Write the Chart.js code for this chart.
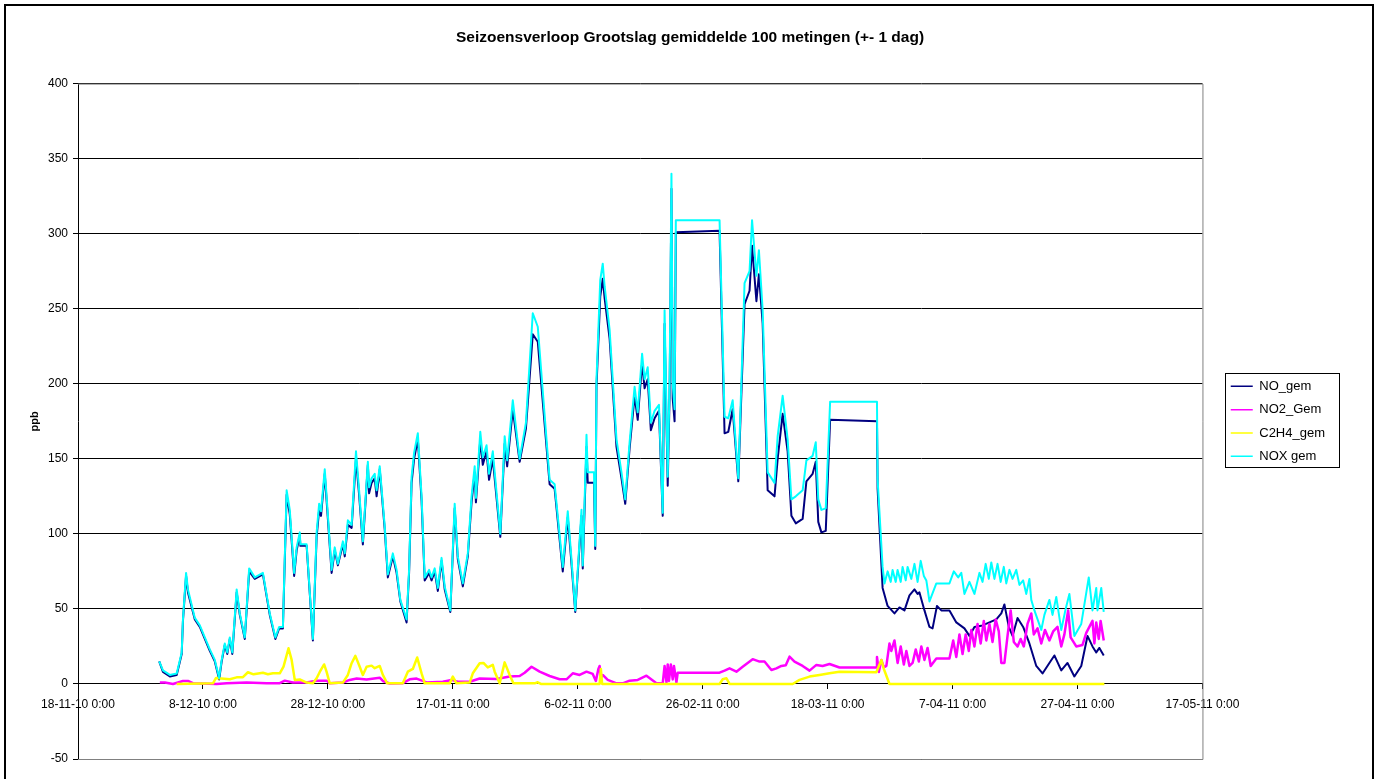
<!DOCTYPE html>
<html>
<head>
<meta charset="utf-8">
<title>Seizoensverloop Grootslag</title>
<script src="https://cdn.jsdelivr.net/npm/chart.js@4.4.1/dist/chart.umd.min.js"></script>
<style>
  html, body { margin: 0; padding: 0; background: #fff; }
  canvas { display: block; }
</style>
</head>
<body>
<canvas id="chart" width="1380" height="779"></canvas>
<script>
// dagen vanaf 18-11-10 0:00
const startDate = Date.UTC(2010, 10, 18);
const seriesNames = ['NO_gem', 'NO2_Gem', 'C2H4_gem', 'NOX gem'];
const yTicks = { min: -50, max: 400, step: 50 };
const xTicks = { min: 0, max: 180, step: 20 };

const noxDays = [
  13.0,13.6,14.7,15.8,16.6,16.8,17.3,17.6,18.7,19.5,
  21.1,21.9,22.6,23.0,23.5,23.9,24.3,24.7,25.4,25.9,
  26.7,27.4,28.3,29.6,30.7,31.6,32.2,32.8,33.0,33.4,
  33.9,34.6,35.0,35.5,35.6,36.6,37.6,38.2,38.6,38.9,
  39.5,40.6,41.1,41.6,42.4,42.7,43.2,43.8,44.5,45.0,
  45.6,46.4,46.6,47.0,47.5,47.8,48.3,49.1,49.6,50.4,
  51.0,51.6,52.6,53.0,53.4,53.8,54.4,55.0,55.5,56.2,
  56.6,57.1,57.6,58.2,58.7,59.6,60.3,60.8,61.6,62.4,
  63.0,63.5,63.7,64.4,64.8,65.4,65.8,66.4,67.6,68.3,
  68.7,69.6,70.7,71.7,72.8,73.6,75.5,76.3,77.6,78.4,
  79.0,79.6,80.0,80.6,80.8,81.4,81.6,82.6,82.8,83.0,
  83.6,84.0,84.3,85.1,86.2,87.0,87.6,88.3,89.1,89.6,
  90.3,90.7,91.2,91.7,92.3,93.0,93.6,93.9,94.4,94.7,
  95.0,95.2,95.5,95.7,102.7,103.5,104.1,104.8,105.7,106.7,
  107.5,107.9,108.6,109.0,109.6,110.4,111.5,112.0,112.8,113.6,
  114.2,114.9,116.0,116.6,117.6,118.1,118.5,119.0,119.7,120.4,
  127.9,128.0,
  128.8,129.1,129.6,130.1,130.4,130.9,131.2,131.7,132.0,132.5,
  132.8,133.4,133.9,134.4,134.9,135.4,135.8,136.3,137.4,139.5,
  140.2,140.9,141.4,141.9,142.7,143.5,144.3,144.8,145.3,145.8,
  146.2,146.7,147.2,147.7,148.2,148.6,149.1,149.6,150.2,150.7,
  151.3,151.8,152.3,152.6,153.1,154.2,154.7,155.5,156.0,156.6,
  157.4,158.1,158.7,159.5,160.6,161.8,162.4,163.0,163.2,163.8,
  164.2
];
const noxValues = [
  15,9,6,7,21,43,74,63,44,39,
  23,16,4,16,27,21,31,21,63,47,
  31,77,71,74,47,31,38,38,69,129,
  116,74,91,101,93,93,30,101,120,115,
  143,76,91,80,95,87,109,106,155,129,
  95,148,131,137,140,129,145,105,73,87,
  76,56,43,76,138,154,167,125,71,76,
  71,77,64,84,65,49,120,85,67,87,
  125,145,124,168,151,159,140,155,100,165,
  149,189,150,174,247,238,136,133,78,115,
  83,49,76,116,79,166,141,141,92,203,
  269,280,265,236,163,141,123,161,198,181,
  220,203,211,174,182,186,114,249,138,200,
  340,200,183,309,309,178,177,189,137,267,
  275,309,272,289,249,141,134,165,192,163,
  123,125,129,149,152,161,123,116,117,188,
  188,136,
  78,67,75,68,76,68,76,68,78,69,
  78,70,80,68,82,72,69,55,67,67,
  75,71,74,60,68,60,74,68,80,70,
  81,70,80,68,78,67,76,70,76,66,
  69,60,70,56,49,36,46,56,46,58,
  36,50,60,32,40,71,49,64,49,64,
  48
];

const noDays = [
  13.0,13.6,14.7,15.8,16.6,16.8,17.3,17.6,18.7,19.5,
  21.1,21.9,22.6,23.0,23.5,23.9,24.3,24.7,25.4,25.9,
  26.7,27.4,28.3,29.6,30.7,31.6,32.2,32.8,33.0,33.4,
  33.9,34.6,35.0,35.5,35.6,36.6,37.6,38.2,38.6,38.9,
  39.5,40.6,41.1,41.6,42.4,42.7,43.2,43.8,44.5,45.0,
  45.6,46.4,46.6,47.0,47.5,47.8,48.3,49.1,49.6,50.4,
  51.0,51.6,52.6,53.0,53.4,53.8,54.4,55.0,55.5,56.2,
  56.6,57.1,57.6,58.2,58.7,59.6,60.3,60.8,61.6,62.4,
  63.0,63.5,63.7,64.4,64.8,65.4,65.8,66.4,67.6,68.3,
  68.7,69.6,70.7,71.7,72.8,73.6,75.5,76.3,77.6,78.4,
  79.0,79.6,80.0,80.6,80.8,81.4,81.6,82.6,82.8,83.0,
  83.6,84.0,84.3,85.1,86.2,87.0,87.6,88.3,89.1,89.6,
  90.3,90.7,91.2,91.7,92.3,93.0,93.6,93.9,94.4,94.7,
  95.0,95.2,95.5,95.7,102.7,103.5,104.1,104.8,105.7,106.7,
  107.5,107.9,108.6,109.0,109.6,110.4,111.5,112.0,112.8,113.6,
  114.2,114.9,116.0,116.6,117.6,118.1,118.5,119.0,119.7,120.4,
  127.9,128.0,
  128.8,129.6,130.7,131.5,132.3,133.1,133.9,134.4,134.7,135.5,
  136.3,136.8,137.5,138.2,139.5,140.6,141.9,142.7,143.5,144.8,
  145.9,147.0,147.8,148.3,149.0,149.6,150.4,151.3,152.3,153.4,
  154.4,155.5,156.3,157.4,158.4,159.5,160.6,161.6,162.4,163.0,
  163.5,164.2
];
const noValues = [
  15,8,5,6,20,42,72,61,43,38,
  22,15,3,15,26,20,30,20,61,46,
  30,75,70,73,46,30,37,37,67,126,
  113,72,89,99,92,92,29,98,116,112,
  140,74,89,79,93,85,106,104,150,126,
  93,146,127,134,137,125,143,103,71,85,
  74,55,41,74,134,150,163,122,69,74,
  69,75,62,82,63,48,117,83,65,85,
  121,141,121,163,146,155,136,150,98,160,
  145,183,148,170,233,228,133,130,75,111,
  80,48,74,112,77,158,134,134,90,198,
  258,270,257,230,158,137,120,157,192,176,
  214,197,203,169,177,182,112,240,132,192,
  330,190,175,301,302,167,168,183,135,253,
  262,292,255,273,240,129,125,150,180,155,
  112,107,110,135,140,148,108,101,102,176,
  175,130,
  64,52,47,51,49,59,63,60,61,49,
  38,37,52,49,49,41,37,32,38,39,
  41,43,47,53,38,32,44,38,27,12,
  7,14,19,9,14,5,12,32,25,21,
  24,19
];

const no2Days = [
  13.1,13.9,15.2,16.8,17.6,18.4,22.2,23.8,27.0,30.2,
  32.3,33.1,34.4,36.6,38.2,39.8,40.3,42.4,43.5,44.6,
  46.2,48.3,48.8,49.9,52.0,53.1,54.2,55.8,58.4,59.8,
  60.8,62.7,64.3,67.0,69.1,70.7,71.5,72.6,73.9,75.5,
  77.1,78.2,79.2,80.3,81.4,82.4,82.9,83.3,83.5,83.7,
  84.0,84.8,86.2,87.2,88.3,89.6,91.0,92.6,93.6,93.9,
  94.2,94.4,94.6,94.9,95.2,95.4,95.8,96.0,102.7,103.5,
  104.3,105.4,106.4,108.0,109.1,109.9,111.0,111.8,112.6,113.3,
  113.9,114.7,116.0,117.1,118.2,119.2,120.3,121.9,127.8,127.9,
  128.2,128.6,129.0,129.4,129.9,130.2,130.7,131.2,131.7,132.2,
  132.6,133.1,133.6,134.1,134.6,135.0,135.5,136.0,136.5,137.4,
  139.5,140.1,140.6,141.1,141.6,142.1,142.6,143.0,143.5,144.0,
  144.5,145.0,145.4,145.9,146.4,146.9,147.4,147.8,148.3,148.8,
  149.3,149.8,150.4,150.9,151.4,152.0,152.6,153.0,153.6,154.2,
  154.8,155.5,156.1,156.8,157.4,157.9,158.5,158.9,159.8,160.8,
  161.4,162.4,162.7,163.0,163.4,163.7,164.2
];
const no2Values = [
  1,1,0,2,2,0.5,0,0.5,1,0.5,
  0.5,2.2,1,1,2.2,2.2,0.5,1,2.7,3.6,
  3,4.2,2,0.3,0.5,3.1,3.6,1,1.5,2.7,
  1.5,1.5,3.6,3.3,4.9,5.3,7.5,11.5,8.2,5.3,
  3.1,3.1,7.1,6,8.2,6.7,2,10,12,4,
  6,2.7,0.4,0.4,2.2,2.7,5.5,0.4,0.4,12,
  1,13,2,13,3,12,1,7.5,7.5,8.9,
  10.4,8.2,11.5,16.5,14.9,15,9.3,10.4,12,12.5,
  18.2,14.9,12,8.9,12.7,12,13.3,11,11,18,
  8,16,11,12,27,22,29,14,25,13,
  22,12,14,23,15,25,16,24,12,17,
  17,29,18,33,20,33,22,36,25,40,
  27,42,29,40,28,43,35,14,14,32,
  49,28,25,30,25,40,47,33,37,27,
  36,29,35,38,25,33,49,31,25,26,
  34,42,27,41,30,42,29
];

const c2h4Days = [
  15.8,21.6,22.1,22.5,24.3,25.4,26.4,27.2,28.1,29.6,
  30.4,31.2,32.3,32.9,33.7,34.2,34.7,35.5,36.6,37.6,
  38.2,38.7,39.4,39.8,40.3,42.4,43.2,43.8,44.4,45.1,
  45.6,46.2,47.0,47.5,48.3,48.8,49.5,52.0,52.8,53.6,
  54.3,55.0,55.5,59.5,60.0,60.6,62.7,63.2,64.3,64.9,
  65.6,66.4,66.7,67.5,68.3,69.1,69.7,73.1,73.6,74.1,
  83.5,83.7,83.9,102.7,103.2,103.8,104.3,114.4,115.5,117.1,
  118.7,120.3,121.9,127.8,128.6,129.0,129.9,164.3
];
const c2h4Values = [
  0,0.4,4,3.8,3.1,4.4,4.5,7.8,6.4,7.5,
  6.5,7.1,7.1,11.5,23.8,16,2.7,3,0.9,0.4,
  3.8,8,13,8,0.4,0.9,6,13.8,18.7,11.5,
  6,11.5,12.2,10.5,12,6,0.4,0.4,8.2,10,
  17.6,7,0.4,0.4,4.9,0.4,0.9,7.1,13.8,14,
  11,12.7,8.2,0.4,14.4,6,0.4,0.4,1.1,0,
  0,10,0,0,3.1,3.8,0,0,2.7,4.9,
  6,7.1,8.2,7.8,16,10,0,0
];

const FONT = 'Arial, "Liberation Sans", sans-serif';

function toPoints(days, values) {
  return days.map((d, i) => ({ x: d, y: values[i] }));
}

function dayLabel(v) {
  const d = new Date(startDate + v * 864e5);
  const mm = String(d.getUTCMonth() + 1).padStart(2, '0');
  const yy = String(d.getUTCFullYear()).slice(2);
  return d.getUTCDate() + '-' + mm + '-' + yy + ' 0:00';
}

// kaders: buitenrand, plotgebied en legenda
const framePlugin = {
  id: 'frame',
  beforeDraw(chart) {
    const ctx = chart.ctx;
    ctx.save();
    ctx.fillStyle = '#fff';
    ctx.fillRect(0, 0, chart.width, chart.height);
    ctx.strokeStyle = '#000';
    ctx.lineWidth = 2;
    ctx.strokeRect(5, 5, chart.width - 12, chart.height + 10);
    ctx.restore();
  },
  beforeDatasetsDraw(chart) {
    const { ctx, chartArea: a } = chart;
    ctx.save();
    ctx.strokeStyle = '#808080';
    ctx.lineWidth = 1;
    ctx.beginPath();
    ctx.moveTo(a.left, a.top + 0.5);
    ctx.lineTo(a.right + 0.5, a.top + 0.5);
    ctx.lineTo(a.right + 0.5, a.bottom + 0.5);
    ctx.lineTo(a.left, a.bottom + 0.5);
    ctx.stroke();
    ctx.restore();
  },
  afterDraw(chart) {
    const boxes = chart.legend && chart.legend.legendHitBoxes;
    if (!boxes || !boxes.length) return;
    const ctx = chart.ctx;
    const left = Math.min(...boxes.map(b => b.left)) - 6;
    const right = Math.max(...boxes.map(b => b.left + b.width)) + 14;
    const top = boxes[0].top - 7;
    const last = boxes[boxes.length - 1];
    const bottom = last.top + last.height + 4;
    ctx.save();
    ctx.strokeStyle = '#000';
    ctx.lineWidth = 1;
    ctx.strokeRect(Math.round(left) + 0.5, Math.round(top) + 0.5, Math.round(right - left), Math.round(bottom - top));
    ctx.restore();
  }
};

const ctx = document.getElementById('chart');
new Chart(ctx, {
  type: 'line',
  data: {
    datasets: [
      { label: seriesNames[0], data: toPoints(noDays, noValues), borderColor: '#000080', order: 3 },
      { label: seriesNames[1], data: toPoints(no2Days, no2Values), borderColor: '#FF00FF', borderWidth: 2.5, order: 2 },
      { label: seriesNames[2], data: toPoints(c2h4Days, c2h4Values), borderColor: '#FFFF00', borderWidth: 2.5, order: 1 },
      { label: seriesNames[3], data: toPoints(noxDays, noxValues), borderColor: '#00FFFF', order: 0 }
    ]
  },
  options: {
    responsive: false,
    animation: false,
    events: [],
    elements: {
      point: { radius: 0 },
      line: { borderWidth: 2, tension: 0, fill: false, borderJoinStyle: 'round' }
    },
    layout: { padding: { left: 0, right: 0, top: 0, bottom: 20 } },
    plugins: {
      title: {
        display: true,
        text: 'Seizoensverloop Grootslag gemiddelde 100 metingen (+- 1 dag)',
        color: '#000',
        font: { family: FONT, size: 15.5, weight: 'bold' },
        padding: { top: 28, bottom: 37 }
      },
      legend: {
        position: 'right',
        fullSize: false,
        labels: {
          usePointStyle: true,
          pointStyle: 'line',
          pointStyleWidth: 22,
          padding: 10.3,
          color: '#000',
          font: { family: FONT, size: 13 },
          sort: (a, b) => a.datasetIndex - b.datasetIndex,
          generateLabels: chart => Chart.defaults.plugins.legend.labels.generateLabels(chart)
            .map(l => Object.assign(l, { lineWidth: 1.5 }))
        }
      },
      tooltip: { enabled: false }
    },
    scales: {
      x: {
        type: 'linear',
        position: { y: 0 },
        min: xTicks.min,
        max: xTicks.max,
        ticks: {
          stepSize: xTicks.step,
          autoSkip: false,
          maxRotation: 0,
          padding: 9,
          color: '#000',
          font: { family: FONT, size: 12 },
          callback: v => dayLabel(v)
        },
        grid: { drawOnChartArea: false, drawTicks: true, tickLength: 5, color: '#000' },
        border: { color: '#000' }
      },
      y: {
        min: yTicks.min,
        max: yTicks.max,
        ticks: {
          stepSize: yTicks.step,
          padding: 5,
          color: '#000',
          font: { family: FONT, size: 12 }
        },
        grid: { color: '#000', tickLength: 5 },
        border: { color: '#000' },
        title: {
          display: true,
          text: 'ppb',
          color: '#000',
          font: { family: FONT, size: 11, weight: 'bold' },
          padding: { top: 28, bottom: 0 }
        },
        afterFit: s => { s.width = 78; }
      },
      // lege ruimte tussen plot en legenda
      y2: {
        position: 'right',
        display: true,
        grid: { display: false },
        ticks: { display: false },
        border: { display: false },
        afterFit: s => { s.width = 18; }
      },
      // marge rechts van de legenda
      y3: {
        position: 'right',
        weight: 2000,
        display: true,
        grid: { display: false },
        ticks: { display: false },
        border: { display: false },
        afterFit: s => { s.width = 45; }
      }
    }
  },
  plugins: [framePlugin]
});
</script>
</body>
</html>
